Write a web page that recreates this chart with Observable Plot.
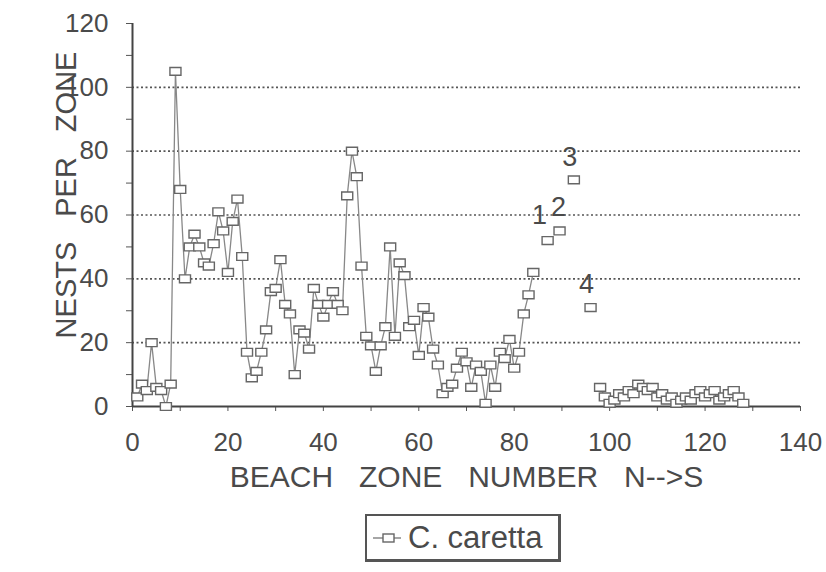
<!DOCTYPE html>
<html>
<head>
<meta charset="utf-8">
<script src="https://cdn.jsdelivr.net/npm/d3@7"></script>
<script src="https://cdn.jsdelivr.net/npm/@observablehq/plot@0.6"></script>
<style>
  html, body { margin: 0; padding: 0; background: white; }
  #legend {
    margin-left: 365px; margin-top: 9px;
    width: 191px; height: 43px; box-sizing: content-box;
    border: 2px solid #555; border-right-width: 3px; border-bottom-width: 3px;
    display: flex; align-items: center;
    font-family: "Liberation Sans", Arial, sans-serif; font-size: 31px; color: #4a4a4a;
    white-space: nowrap;
  }
  #legend svg { margin-left: 4px; margin-right: 5px; flex: none; }
</style>
</head>
<body>
<div id="chart"></div>
<div id="legend"><svg width="32" height="20"><line x1="2" x2="30" y1="10" y2="10" stroke="#888" stroke-width="1.5"/><rect x="12" y="6" width="11" height="8" fill="white" stroke="#666" stroke-width="1.4"/></svg><span>C. caretta</span></div>
<script>
// Main series: zones 1..84
const mainNests = [3,7,5,20,6,5,0,7,105,68,40,50,54,50,45,44,51,61,55,42,58,65,47,17,9,11,17,24,36,37,46,32,29,10,24,23,18,37,32,28,32,36,32,30,66,80,72,44,22,19,11,19,25,50,22,45,41,25,27,16,31,28,18,13,4,6,7,12,17,14,6,13,11,1,13,6,17,15,21,12,17,29,35,42];
const mainZones = d3.range(1, mainNests.length + 1);
// Southern tail: zones 98..128
const tailNests = [6,3,1,2,4,3,5,4,7,6,5,6,3,4,2,3,1,2,3,2,4,5,3,4,5,2,3,4,5,3,1];
const tailZones = d3.range(98, 98 + tailNests.length);
// Isolated labelled points
const labelZones = [87, 89.5, 92.5, 96];
const labelNests = [52, 55, 71, 31];
const labelTexts = ["1", "2", "3", "4"];
// Axis ticks
const xTicks = [0, 20, 40, 60, 80, 100, 120, 140];
const yTicks = [0, 20, 40, 60, 80, 100, 120];

const mainData = mainZones.map((z, i) => ({zone: z, nests: mainNests[i]}));
const tailData = tailZones.map((z, i) => ({zone: z, nests: tailNests[i]}));
const labelData = labelZones.map((z, i) => ({zone: z, nests: labelNests[i], label: labelTexts[i]}));

const rectSymbol = {
  draw(context, size) {
    const s = Math.sqrt(size / Math.PI);
    context.rect(-1.2 * s, -0.85 * s, 2.4 * s, 1.7 * s);
  }
};
const dotOpts = {x: "zone", y: "nests", symbol: rectSymbol, r: 4.6, fill: "white", stroke: "#666", strokeWidth: 1.4};
const lineOpts = {x: "zone", y: "nests", stroke: "#888", strokeWidth: 1.3};
const labelOpts = {x: "zone", y: "nests", text: "label", fontSize: 27, fill: "#4a4a4a"};
const gap = "\u2002\u00a0\u200a";

const chart = Plot.plot({
  width: 826,
  height: 505,
  marginLeft: 132,
  marginRight: 26,
  marginTop: 23,
  marginBottom: 99,
  x: {domain: [0, 140]},
  y: {domain: [0, 120]},
  style: {fontFamily: "Liberation Sans, Arial, sans-serif", color: "#4a4a4a", background: "white"},
  marks: [
    Plot.gridY([20, 40, 60, 80, 100], {stroke: "#555", strokeOpacity: 1, strokeWidth: 1.6, strokeDasharray: "2,2.5"}),
    Plot.axisY(d3.range(0, 121, 10), {tickSize: 6, tickFormat: () => "", label: null, stroke: "#555"}),
    Plot.axisX(d3.range(0, 141, 10), {tickSize: 5, tickFormat: () => "", label: null, stroke: "#555"}),
    Plot.axisY(yTicks, {tickSize: 0, tickPadding: 24, fontSize: 26, label: null, fill: "#4a4a4a"}),
    Plot.axisX(xTicks, {tickSize: 0, tickPadding: 26, fontSize: 26, label: null, fill: "#4a4a4a"}),
    Plot.ruleX([0], {stroke: "#444", strokeWidth: 2}),
    Plot.ruleY([0], {stroke: "#444", strokeWidth: 2}),
    Plot.line(mainData, lineOpts),
    Plot.line(tailData, lineOpts),
    Plot.dot(mainData, dotOpts),
    Plot.dot(tailData, dotOpts),
    Plot.dot(labelData, dotOpts),
    Plot.text(labelData, {...labelOpts, filter: d => d.label === "1", dx: -8, dy: -25}),
    Plot.text(labelData, {...labelOpts, filter: d => d.label === "2", dx: -1, dy: -24}),
    Plot.text(labelData, {...labelOpts, filter: d => d.label === "3", dx: -4, dy: -23}),
    Plot.text(labelData, {...labelOpts, filter: d => d.label === "4", dx: -4, dy: -23}),
    Plot.text(["BEACH" + gap + "ZONE" + gap + "NUMBER" + gap + "N-->S"], {frameAnchor: "bottom", dy: 80, fontSize: 30, fill: "#4a4a4a"}),
    Plot.text(["NESTS" + gap + "PER" + gap + "ZONE"], {frameAnchor: "left", textAnchor: "middle", rotate: -90, dx: -66, dy: -20, fontSize: 29, fill: "#4a4a4a"})
  ]
});
document.getElementById("chart").appendChild(chart);
</script>
</body>
</html>
